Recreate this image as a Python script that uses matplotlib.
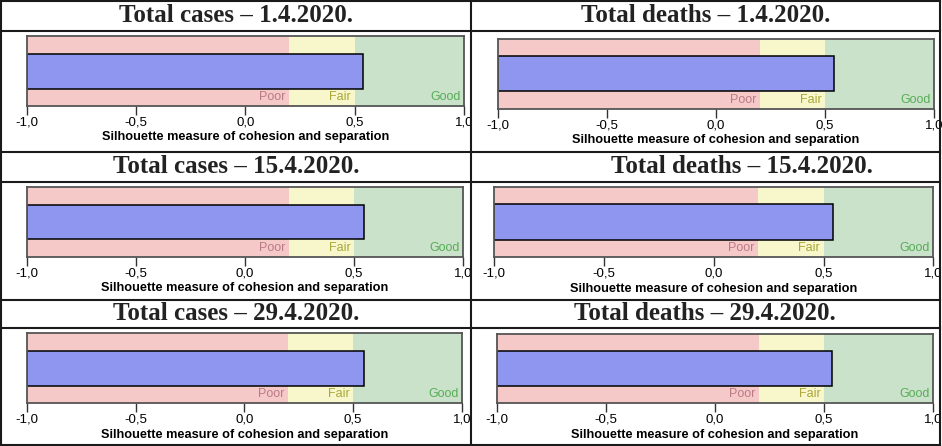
import matplotlib
matplotlib.use("Agg")
import matplotlib.pyplot as plt
from matplotlib.lines import Line2D

# silhouette scores per snapshot date
dates = ["1.4.2020.", "15.4.2020.", "29.4.2020."]
measures = ["Total cases", "Total deaths"]
silhouette_cases = [0.537, 0.547, 0.551]
silhouette_deaths = [0.540, 0.542, 0.537]

# quality bands of the silhouette scale
band_edges = [-1.0, 0.2, 0.5, 1.0]
band_names = ["Poor", "Fair", "Good"]
tick_values = [-1.0, -0.5, 0.0, 0.5, 1.0]
tick_labels = ["-1,0", "-0,5", "0,0", "0,5", "1,0"]

W, H = 942, 446
band_colors = ["#f6c9c9", "#f8f7cb", "#c9e2c9"]
band_text = ["#bb7a86", "#aaa63a", "#58ad58"]
bar_color = "#8e96ef"

# chart boxes in pixels: left, right, top, bottom
boxes = [
    [(26.7, 464.0, 36.0, 106.0), (497.7, 934.3, 39.0, 108.7)],
    [(26.7, 463.3, 187.3, 256.7), (494.3, 933.3, 186.7, 257.3)],
    [(26.7, 462.0, 333.3, 403.3), (496.7, 933.3, 334.0, 403.3)],
]
title_rows = [(1.0, 30.5), (151.5, 181.5), (299.5, 328.0)]
title_x = [[236, 706], [236, 741.5], [236.5, 705]]

fig = plt.figure(figsize=(W / 100, H / 100), dpi=100)
fig.patch.set_facecolor("white")


def px_axes(l, r, t, b):
    return fig.add_axes([l / W, 1 - b / H, (r - l) / W, (b - t) / H])


for i, date in enumerate(dates):
    for j, name in enumerate(measures):
        value = (silhouette_cases if j == 0 else silhouette_deaths)[i]
        ax = px_axes(*boxes[i][j])
        for k in range(3):
            ax.axvspan(band_edges[k], band_edges[k + 1], color=band_colors[k], lw=0)
            ax.annotate(band_names[k], (band_edges[k + 1], -0.74), xytext=(-2.6, 0),
                        textcoords="offset points", ha="right", va="center",
                        color=band_text[k], fontsize=9, family="Liberation Sans")
        ax.barh(0, value - band_edges[0], left=band_edges[0], height=1.0,
                color=bar_color, edgecolor="black", linewidth=1.1)
        ax.set_xlim(-1, 1)
        ax.set_ylim(-1, 1)
        ax.set_yticks([])
        ax.set_xticks(tick_values)
        ax.set_xticklabels(tick_labels, family="Liberation Sans", fontsize=9.5)
        ax.tick_params(axis="x", direction="out", length=6.5, width=1.0,
                       color="#333333", pad=1.2)
        for s in ax.spines.values():
            s.set_color("#555555")
            s.set_linewidth(1.3)
        ax.set_xlabel("Silhouette measure of cohesion and separation",
                      family="Liberation Sans", fontweight="bold", fontsize=9.2,
                      labelpad=2)

        t, b = title_rows[i]
        fig.text(title_x[i][j] / W, 1 - (t + b) / 2 / H, f"{name} \u2013 {date}",
                 ha="center", va="center", family="Liberation Serif",
                 fontweight="bold", fontsize=18, color="#222222")

# table grid
h_lines = [1.0, 30.5, 151.5, 181.5, 299.5, 328.0, 444.5]
v_lines = [1.0, 471.0, 939.5]
for y in h_lines:
    fig.add_artist(Line2D([1 / W, 939.5 / W], [1 - y / H] * 2,
                          transform=fig.transFigure, color="#1a1a1a", lw=1.5))
for x in v_lines:
    fig.add_artist(Line2D([x / W] * 2, [1 - 1 / H, 1 - 444.5 / H],
                          transform=fig.transFigure, color="#1a1a1a", lw=1.5))

fig.savefig("out.png", dpi=100)
